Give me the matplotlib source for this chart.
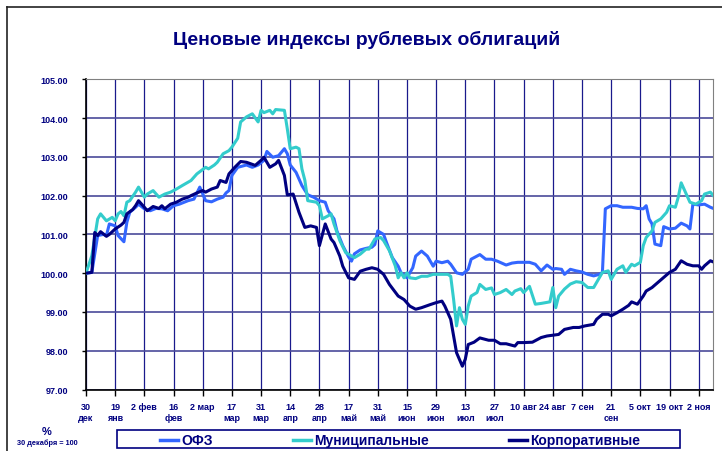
import matplotlib
matplotlib.use('Agg')
from matplotlib import pyplot as plt
from matplotlib.lines import Line2D
from matplotlib.patches import Rectangle

plt.rcParams['font.family'] = ['Liberation Sans', 'DejaVu Sans']
plt.rcParams['font.weight'] = 'bold'

NAVY = '#000080'

# x axis: trading days since 30 dec, a label every 10 days
tick_days = list(range(0, 220, 10))
tick_labels = ["30\nдек", "19\nянв", "2 фев", "16\nфев", "2 мар", "17\nмар",
               "31\nмар", "14\nапр", "28\nапр", "17\nмай", "31\nмай", "15\nиюн",
               "29\nиюн", "13\nиюл", "27\nиюл", "10 авг", "24 авг", "7 сен",
               "21\nсен", "5 окт", "19 окт", "2 ноя"]
y_ticks = [97.0, 98.0, 99.0, 100.0, 101.0, 102.0, 103.0, 104.0, 105.0]

series_names = ["ОФЗ", "Муниципальные", "Корпоративные"]
series_colors = ['#3366FF', '#33CCCC', '#000080']

ofz_days = [0, 2, 4, 6, 7, 8, 10, 11, 13, 14, 15, 17, 18, 20, 22, 24, 26, 28, 30,
            32, 35, 37, 39, 41, 43, 45, 47, 48, 49, 50, 52, 55, 57, 59, 61, 62, 64,
            66, 68, 69, 70, 72, 74, 76, 78, 80, 82, 83, 85, 86, 88, 90, 91, 92, 94,
            96, 98, 99, 100, 102, 103, 105, 107, 108, 110, 112, 113, 115, 117, 119,
            120, 122, 124, 125, 127, 129, 131, 132, 135, 137, 139, 141, 144, 146,
            148, 150, 152, 154, 156, 158, 160, 161, 163, 164, 166, 168, 170, 172,
            174, 176, 177, 178, 180, 182, 184, 187, 189, 191, 192, 193, 194, 195,
            197, 198, 200, 202, 204, 206, 207, 208, 210, 212, 214, 215]
ofz_vals = [100.0, 100.02, 100.97, 101.0, 100.97, 101.27, 101.22, 100.97, 100.81,
            101.31, 101.57, 101.7, 101.78, 101.66, 101.61, 101.67, 101.66, 101.61,
            101.74, 101.78, 101.87, 101.91, 102.22, 101.87, 101.84, 101.91, 101.96,
            102.07, 102.13, 102.52, 102.73, 102.79, 102.73, 102.79, 102.91, 103.14,
            102.99, 103.03, 103.21, 103.08, 102.79, 102.6, 102.26, 102.02, 101.96,
            101.87, 101.83, 101.61, 101.4, 101.09, 100.71, 100.42, 100.31, 100.5,
            100.6, 100.64, 100.67, 100.74, 101.09, 101.0, 100.79, 100.4, 100.18,
            100.01, 99.88, 100.14, 100.44, 100.57, 100.44, 100.18, 100.31, 100.27,
            100.31, 100.23, 100.01, 99.97, 100.1, 100.36, 100.48, 100.36, 100.36,
            100.31, 100.21, 100.26, 100.28, 100.28, 100.28, 100.23, 100.06, 100.21,
            100.1, 100.12, 100.1, 99.97, 100.1, 100.06, 100.03, 99.97, 99.93, 99.97,
            100.02, 101.66, 101.74, 101.74, 101.7, 101.7, 101.67, 101.66, 101.74,
            101.4, 101.27, 100.75, 100.71, 101.2, 101.14, 101.16, 101.29, 101.22,
            101.14, 101.78, 101.76, 101.78, 101.7, 101.67]

muni_days = [0, 2, 4, 5, 7, 9, 10, 11, 12, 13, 14, 15, 17, 18, 20, 21, 23, 25, 27,
             29, 31, 33, 36, 38, 41, 42, 44, 45, 47, 49, 50, 52, 53, 55, 57, 59, 60,
             61, 63, 64, 65, 68, 69, 70, 72, 73, 74, 75, 76, 79, 80, 81, 83, 84, 85,
             87, 89, 90, 92, 94, 96, 97, 99, 101, 102, 104, 106, 107, 108, 109, 110,
             111, 113, 115, 117, 119, 122, 124, 125, 126, 127, 128, 129, 130, 131,
             132, 134, 135, 137, 139, 140, 142, 144, 146, 147, 149, 150, 152, 154,
             156, 159, 160, 161, 162, 164, 166, 168, 170, 172, 174, 176, 177, 179,
             180, 182, 184, 185, 187, 188, 190, 191, 192, 194, 195, 197, 199, 200,
             202, 203, 204, 206, 207, 209, 211, 212, 214, 215]
muni_vals = [100.0, 100.45, 101.4, 101.53, 101.35, 101.44, 101.35, 101.53, 101.59,
             101.48, 101.83, 101.87, 102.09, 102.22, 101.96, 102.04, 102.13, 101.96,
             102.04, 102.09, 102.17, 102.26, 102.39, 102.56, 102.73, 102.69, 102.79,
             102.86, 103.08, 103.16, 103.25, 103.48, 103.9, 104.03, 104.11, 103.9,
             104.2, 104.14, 104.2, 104.11, 104.22, 104.2, 103.72, 103.21, 103.25,
             103.21, 102.69, 102.4, 101.87, 101.83, 101.74, 101.4, 101.48, 101.53,
             101.27, 100.84, 100.53, 100.49, 100.4, 100.49, 100.62, 100.62, 100.88,
             100.92, 100.84, 100.58, 100.19, 99.88, 100.01, 99.88, 100.01, 99.88,
             99.86, 99.92, 99.92, 99.97, 99.97, 99.97, 99.92, 99.32, 98.64, 99.11,
             98.81, 98.68, 99.15, 99.41, 99.5, 99.71, 99.58, 99.62, 99.45, 99.5,
             99.58, 99.45, 99.54, 99.6, 99.5, 99.66, 99.2, 99.22, 99.26, 99.63,
             99.11, 99.41, 99.59, 99.72, 99.78, 99.76, 99.63, 99.63, 99.89, 100.02,
             100.06, 99.84, 100.1, 100.19, 100.02, 100.23, 100.19, 100.28, 100.71,
             100.92, 101.09, 101.31, 101.4, 101.57, 101.74, 101.7, 101.96, 102.33,
             102.0, 101.83, 101.78, 101.87, 102.04, 102.09, 102.0]

corp_days = [0, 2, 3, 4, 5, 7, 8, 10, 12, 13, 14, 16, 17, 18, 20, 21, 23, 25, 26,
             27, 29, 31, 33, 35, 36, 38, 40, 41, 43, 45, 46, 48, 49, 51, 53, 55, 58,
             60, 61, 63, 65, 66, 68, 69, 71, 73, 75, 77, 79, 80, 82, 84, 85, 87, 88,
             90, 92, 94, 96, 98, 100, 102, 104, 107, 109, 111, 113, 115, 118, 120,
             122, 123, 125, 126, 127, 129, 130, 131, 133, 135, 138, 140, 142, 144,
             147, 148, 150, 153, 156, 158, 160, 162, 164, 167, 169, 171, 174, 175,
             177, 179, 180, 182, 184, 186, 187, 189, 191, 192, 194, 196, 198, 200,
             202, 204, 206, 208, 210, 211, 212, 214, 215]
corp_vals = [100.0, 100.02, 101.05, 100.97, 101.07, 100.95, 101.0, 101.14, 101.24,
             101.31, 101.53, 101.64, 101.74, 101.87, 101.7, 101.61, 101.72, 101.67,
             101.74, 101.66, 101.78, 101.83, 101.91, 101.96, 102.0, 102.07, 102.13,
             102.09, 102.17, 102.22, 102.39, 102.34, 102.56, 102.73, 102.88, 102.86,
             102.78, 102.91, 102.99, 102.73, 102.82, 102.91, 102.52, 102.02, 102.04,
             101.57, 101.18, 101.22, 101.18, 100.71, 101.27, 100.88, 100.79, 100.44,
             100.18, 99.88, 99.84, 100.05, 100.1, 100.14, 100.1, 99.97, 99.71, 99.41,
             99.32, 99.15, 99.07, 99.11, 99.19, 99.24, 99.28, 99.15, 98.81, 98.38,
             97.95, 97.6, 97.78, 98.16, 98.22, 98.33, 98.27, 98.27, 98.18, 98.18,
             98.12, 98.21, 98.21, 98.22, 98.34, 98.38, 98.4, 98.42, 98.55, 98.6,
             98.6, 98.64, 98.68, 98.81, 98.94, 98.94, 98.9, 98.98, 99.07, 99.17,
             99.26, 99.2, 99.41, 99.54, 99.63, 99.76, 99.89, 100.02, 100.1, 100.32,
             100.23, 100.19, 100.19, 100.1, 100.19, 100.32, 100.29]

W, H = 722, 452


def px(x, y):
    # pixel position (from top-left) -> figure fraction
    return x / W, 1 - y / H


fig = plt.figure(figsize=(W / 100, H / 100), dpi=100)
ax = fig.add_axes([86 / W, 1 - 390.5 / H, (712.7 - 86) / W, (390.5 - 80.3) / H])

# Plot the three indices
all_days = [ofz_days, muni_days, corp_days]
all_vals = [ofz_vals, muni_vals, corp_vals]
for days, vals, color in zip(all_days, all_vals, series_colors):
    ax.plot(days, vals, color=color, lw=2.2, solid_joinstyle='round', zorder=3)

ax.set_xlim(0, 214.8)
ax.set_ylim(97, 105)
ax.set_xticks(tick_days)
ax.set_xticklabels(tick_labels, linespacing=1.25)
ax.set_yticks(y_ticks)
ax.set_yticklabels(["%.2f" % v for v in y_ticks])
ax.tick_params(axis='x', direction='out', length=4, width=1, pad=5,
               labelsize=6.5, color='black', labelcolor=NAVY)
ax.tick_params(axis='y', direction='out', length=3, width=1, pad=10,
               labelsize=6.5, color='black', labelcolor=NAVY)

ax.grid(axis='x', color='#1a1a8c', lw=0.9)
ax.grid(axis='y', color='#4a4a9a', lw=1.2)
ax.set_axisbelow(True)

ax.spines['left'].set_color('black')
ax.spines['bottom'].set_color('black')
ax.spines['left'].set_linewidth(1.2)
ax.spines['bottom'].set_linewidth(1.2)
ax.spines['top'].set_color('#808080')
ax.spines['right'].set_color('#808080')

# Title
fig.text(*px(367, 40), "Ценовые индексы рублевых облигаций", ha='center', va='center',
         fontsize=14, fontweight='bold', color=NAVY)

# Units note
fig.text(*px(47, 432), "%", ha='center', va='center', fontsize=8, color=NAVY)
fig.text(*px(47, 443), "30 декабря = 100", ha='center', va='center', fontsize=5.3,
         color=NAVY)

# Outer frame
fig.add_artist(Line2D([7 / W, 7 / W], [0, 1 - 8 / H], transform=fig.transFigure,
                      color='#222222', lw=1.2))
fig.add_artist(Line2D([7 / W, 1], [1 - 8 / H, 1 - 8 / H], transform=fig.transFigure,
                      color='#222222', lw=1.2))

# Legend box
x0, y0 = px(117, 449)
x1, y1 = px(680, 431)
fig.add_artist(Rectangle((x0, y0), x1 - x0, y1 - y0, transform=fig.transFigure,
                         fill=False, edgecolor=NAVY, lw=1.2))
leg_x = [160, 293, 509]
for lx, name, color in zip(leg_x, series_names, series_colors):
    lxa, lya = px(lx, 441)
    lxb, _ = px(lx + 18, 441)
    fig.add_artist(Line2D([lxa, lxb], [lya, lya], transform=fig.transFigure,
                          color=color, lw=2.5))
    fig.text(*px(lx + 21, 441), name, ha='left', va='center', fontsize=10,
             fontweight='bold', color=NAVY)

fig.savefig('out.png', dpi=100)
